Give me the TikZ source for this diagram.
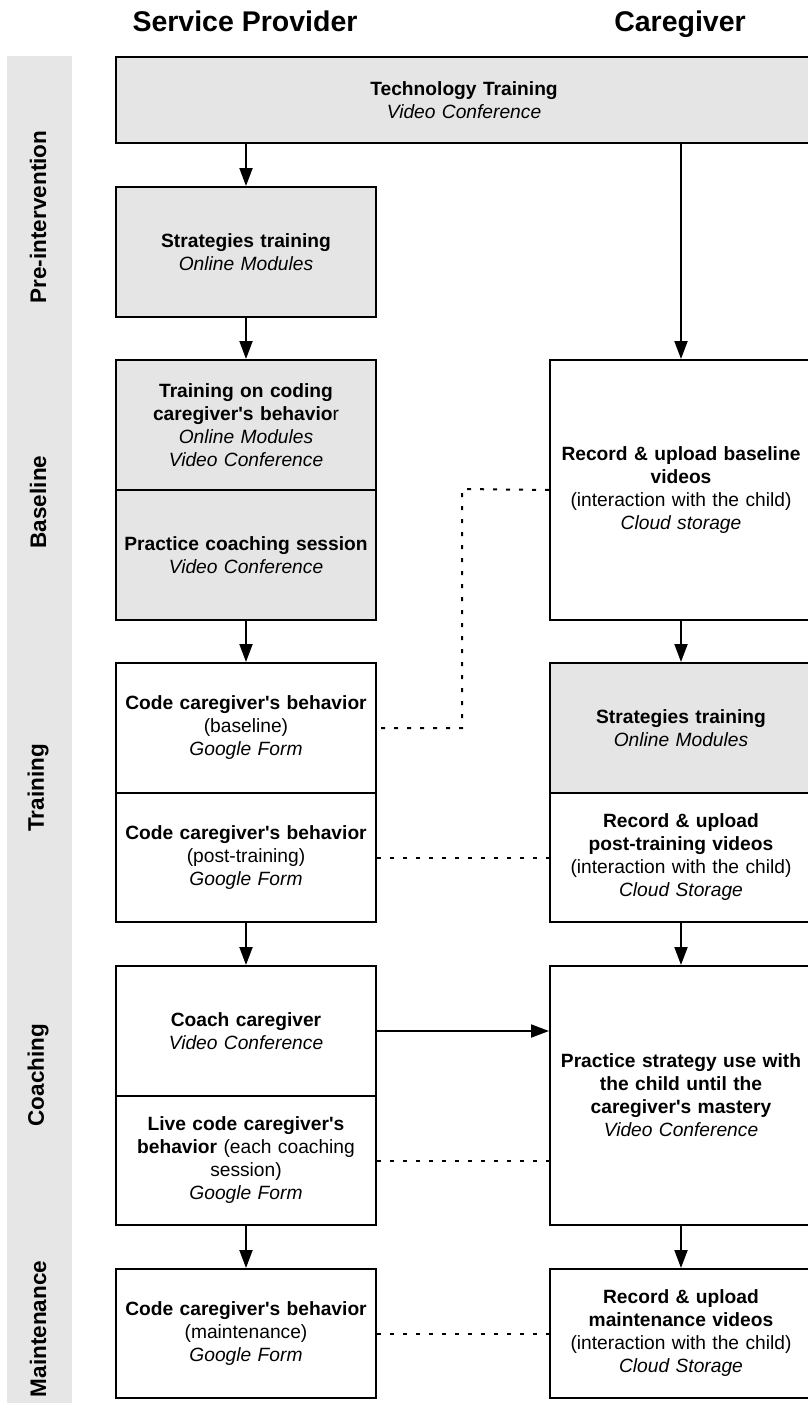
\documentclass[tikz,border=0pt]{standalone}
\usepackage{fontspec}
\setmainfont{Liberation Sans}[Ligatures=TeXOff]
\usetikzlibrary{arrows.meta}
\definecolor{boxgray}{HTML}{E5E5E5}
\definecolor{bandgray}{HTML}{E6E6E6}
\tikzset{
  px/.style={x=1pt,y=-1pt},
  box/.style={draw=black, line width=2pt, align=center, inner sep=0pt,
    anchor=north west, font=\fontsize{19.2}{23}\selectfont},
  lbox/.style={box, minimum width=260pt, text width=255pt},
  rbox/.style={box, minimum width=262pt, text width=255pt},
  gray/.style={fill=boxgray},
  white/.style={fill=white},
  flow/.style={line width=2pt, -{Triangle[length=18pt,width=13pt]}},
  dotline/.style={line width=2pt, dash pattern=on 4pt off 9pt},
  hdr/.style={anchor=base, font=\fontsize{28.5}{32}\selectfont\bfseries},
  phase/.style={rotate=90, font=\fontsize{22.5}{26}\selectfont\bfseries}
}
\begin{document}
\begin{tikzpicture}[px]
\useasboundingbox (0,0) rectangle (807,1403);
% side band
\fill[bandgray] (7,56) rectangle (72,1410);
\node[phase] (p1) at (38,217) {Pre-intervention};
\node[phase] (p2) at (38,502) {Baseline};
\node[phase] (p3) at (38,788) {Training};
\node[phase] (p4) at (38,1075) {Coaching};
\node[phase] (p5) at (38,1329) {Maintenance};
% headers
\node[hdr] (h1) at (245,31) {Service Provider};
\node[hdr] (h2) at (680,31) {Caregiver};
% top
\node[box, gray, minimum width=696pt, minimum height=86pt, text width=600pt] (tt) at (115,56)
  {\textbf{Technology Training}\\\textit{Video Conference}};
% left column
\node[lbox, gray, minimum height=130pt] (st) at (115,186)
  {\textbf{Strategies training}\\\textit{Online Modules}};
\node[lbox, gray, minimum height=130pt] (tc) at (115,359)
  {\textbf{Training on coding}\\\textbf{caregiver's behavio}r\\\textit{Online Modules}\\\textit{Video Conference}};
\node[lbox, gray, minimum height=130pt] (pc) at (115,489)
  {\textbf{Practice coaching session}\\\textit{Video Conference}};
\node[lbox, white, minimum height=130pt] (cb) at (115,662)
  {\textbf{Code caregiver's behavior}\\(baseline)\\\textit{Google Form}};
\node[lbox, white, minimum height=129pt] (cp) at (115,792)
  {\textbf{Code caregiver's behavior}\\(post-training)\\\textit{Google Form}};
\node[lbox, white, minimum height=130pt] (cc) at (115,965)
  {\textbf{Coach caregiver}\\\textit{Video Conference}};
\node[lbox, white, minimum height=129pt] (lc) at (115,1095)
  {\textbf{Live code caregiver's}\\\textbf{behavior} (each coaching\\session)\\\textit{Google Form}};
\node[lbox, white, minimum height=129pt] (ml) at (115,1268)
  {\textbf{Code caregiver's behavior}\\(maintenance)\\\textit{Google Form}};
% right column
\node[rbox, white, minimum height=260pt] (rb) at (549,359)
  {\textbf{Record \& upload baseline}\\\textbf{videos}\\(interaction with the child)\\\textit{Cloud storage}};
\node[rbox, gray, minimum height=130pt] (rs) at (549,662)
  {\textbf{Strategies training}\\\textit{Online Modules}};
\node[rbox, white, minimum height=129pt] (rp) at (549,792)
  {\textbf{Record \& upload}\\\textbf{post-training videos}\\(interaction with the child)\\\textit{Cloud Storage}};
\node[rbox, white, minimum height=259pt] (ps) at (549,965)
  {\textbf{Practice strategy use with}\\\textbf{the child until the}\\\textbf{caregiver's mastery}\\\textit{Video Conference}};
\node[rbox, white, minimum height=129pt] (mr) at (549,1268)
  {\textbf{Record \& upload}\\\textbf{maintenance videos}\\(interaction with the child)\\\textit{Cloud Storage}};
% flow arrows
\draw[flow] (tt.south -| st.north) -- (st.north);
\draw[flow] (tt.south -| rb.north) -- (rb.north);
\draw[flow] (st.south) -- (tc.north);
\draw[flow] (pc.south) -- (cb.north);
\draw[flow] (rb.south) -- (rs.north);
\draw[flow] (cp.south) -- (cc.north);
\draw[flow] (rp.south) -- (ps.north);
\draw[flow] (lc.south) -- (ml.north);
\draw[flow] (ps.south) -- (mr.north);
\draw[flow] (cc.east) -- (cc.east -| ps.west);
% dotted links
\coordinate (j) at (462,489);
\draw[dotline] (rb.west) -- (j) |- (cb.east);
\draw[dotline] (cp.east) -- (rp.west);
\draw[dotline] (lc.east) -- (lc.east -| ps.west);
\draw[dotline] (ml.east) -- (mr.west);
\end{tikzpicture}
\end{document}
